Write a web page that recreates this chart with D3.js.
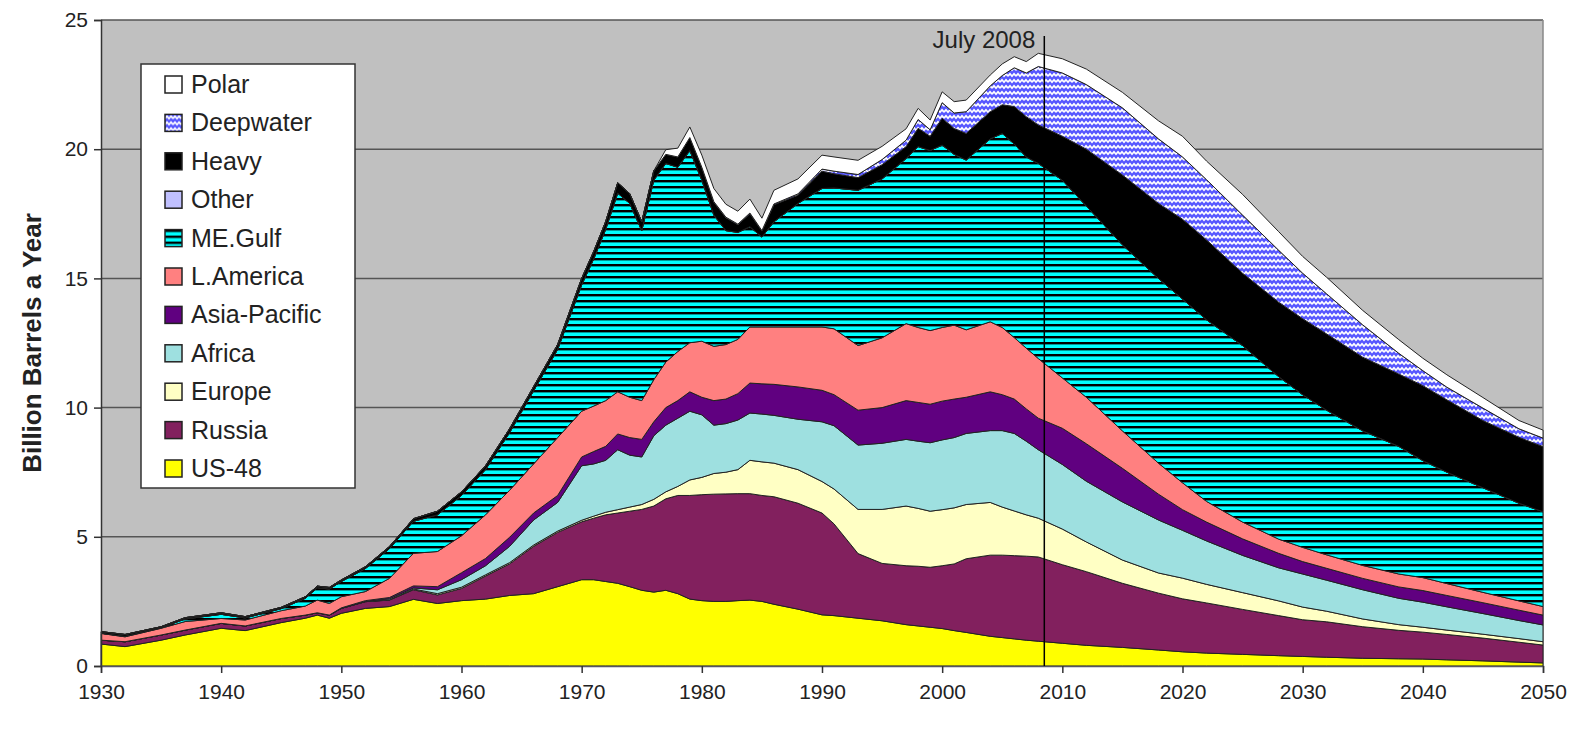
<!DOCTYPE html>
<html>
<head>
<meta charset="utf-8">
<script src="https://cdn.jsdelivr.net/npm/d3@7"></script>
<style>
  body { margin: 0; background: #fff; }
  svg text { font-family: Arial, "Liberation Sans", sans-serif; fill: #222; }
</style>
</head>
<body>
<div id="chart"></div>
<script>
// years (uneven steps, denser where the curve bends)
const years = [1930, 1932, 1935, 1937, 1940, 1942, 1945, 1947, 1948, 1949,
  1950, 1952, 1954, 1956, 1958, 1960, 1962, 1964, 1966, 1968,
  1970, 1971, 1972, 1973, 1974, 1975, 1976, 1977, 1978, 1979,
  1980, 1981, 1982, 1983, 1984, 1985, 1986, 1988, 1990, 1991,
  1993, 1995, 1997, 1998, 1999, 2000, 2001, 2002, 2004, 2005,
  2006, 2007, 2008, 2010, 2012, 2015, 2018, 2020, 2022, 2025,
  2028, 2030, 2032, 2035, 2038, 2040, 2042, 2045, 2048, 2050]

// billion barrels a year, per region
const us48 = [.85, .75, 1.00, 1.20, 1.46, 1.37, 1.68, 1.85, 1.97, 1.85,
  2.04, 2.23, 2.30, 2.58, 2.42, 2.53, 2.59, 2.73, 2.80, 3.07,
  3.34, 3.34, 3.27, 3.20, 3.07, 2.93, 2.86, 2.93, 2.80, 2.59,
  2.53, 2.50, 2.50, 2.53, 2.55, 2.50, 2.39, 2.20, 1.98, 1.95,
  1.85, 1.75, 1.60, 1.55, 1.50, 1.45, 1.37, 1.30, 1.15, 1.10,
  1.05, 1.00, 0.96, 0.88, 0.80, 0.72, 0.62, 0.55, 0.50, 0.45,
  0.40, 0.37, 0.34, 0.30, 0.28, 0.27, 0.24, 0.20, 0.15, 0.12]
const russia = [.15, .19, .20, .19, .19, .18, .16, .12, .09, .12,
  .19, .26, .25, .37, .33, .47, .89, 1.22, 1.83, 2.10,
  2.24, 2.38, 2.58, 2.72, 2.92, 3.13, 3.33, 3.54, 3.80, 4.01,
  4.10, 4.15, 4.16, 4.14, 4.12, 4.10, 4.16, 4.10, 3.94, 3.55,
  2.50, 2.22, 2.28, 2.31, 2.32, 2.43, 2.58, 2.85, 3.14, 3.19,
  3.22, 3.25, 3.26, 3.04, 2.85, 2.48, 2.20, 2.05, 1.94, 1.74,
  1.55, 1.42, 1.37, 1.22, 1.10, 1.04, 0.98, 0.88, 0.77, 0.69]
const europe = [0, 0, 0, 0, 0, 0, 0, 0, 0, 0,
  0, 0, .01, .03, .05, .05, .05, .05, .05, .05,
  .06, .08, .10, .13, .16, .19, .26, .27, .35, .60,
  .67, .80, .84, .93, 1.29, 1.30, 1.30, 1.30, 1.22, 1.35,
  1.71, 2.09, 2.31, 2.24, 2.17, 2.17, 2.17, 2.10, 2.04, 1.86,
  1.73, 1.60, 1.50, 1.38, 1.15, 0.90, 0.78, 0.80, 0.72, 0.65,
  0.57, 0.49, 0.41, 0.30, 0.22, 0.19, 0.17, 0.15, 0.14, 0.13]
const africa = [0, 0, 0, 0, 0, 0, 0, 0, 0, 0,
  0, .01, .04, .04, .15, .29, .35, .63, .97, 1.11,
  2.11, 2.02, 2.01, 2.32, 2.01, 1.84, 2.46, 2.58, 2.64, 2.66,
  2.42, 1.87, 1.88, 1.92, 1.83, 1.85, 1.85, 1.95, 2.31, 2.45,
  2.49, 2.56, 2.58, 2.60, 2.65, 2.70, 2.72, 2.75, 2.78, 2.96,
  3.00, 2.85, 2.65, 2.50, 2.35, 2.25, 2.05, 1.85, 1.68, 1.44,
  1.28, 1.28, 1.20, 1.13, 1.02, 0.97, 0.90, 0.80, 0.70, 0.65]
const asiaPacific = [0, 0, 0, 0, 0, 0, 0, 0, 0, 0,
  .02, .03, .05, .08, .12, .27, .28, .35, .27, .27,
  .34, .48, .54, .61, .68, .68, .54, .68, .68, .75,
  .68, .95, .95, 1.02, 1.16, 1.17, 1.20, 1.25, 1.22, 1.20,
  1.35, 1.38, 1.50, 1.50, 1.49, 1.50, 1.49, 1.40, 1.50, 1.39,
  1.33, 1.25, 1.22, 1.40, 1.45, 1.30, 1.00, 0.80, 0.73, 0.64,
  0.56, 0.48, 0.46, 0.44, 0.44, 0.45, 0.44, 0.42, 0.40, 0.38]
const latinAmerica = [.26, .19, .26, .33, .19, .23, .30, .35, .49, .45,
  .43, .35, .74, 1.26, 1.36, 1.43, 1.69, 1.82, 1.90, 2.24,
  1.77, 1.76, 1.77, 1.63, 1.56, 1.50, 1.63, 1.76, 1.90, 1.90,
  2.17, 2.10, 2.11, 2.10, 2.17, 2.20, 2.22, 2.32, 2.45, 2.55,
  2.50, 2.70, 2.98, 2.90, 2.85, 2.85, 2.86, 2.61, 2.71, 2.60,
  2.38, 2.35, 2.31, 1.95, 1.80, 1.45, 1.20, 1.04, 0.80, 0.65,
  0.55, 0.55, 0.52, 0.50, 0.50, 0.50, 0.46, 0.40, 0.36, 0.33]
const meGulf = [.01, .02, .02, .10, .16, .08, .08, .30, .48, .56,
  .59, .89, 1.15, 1.24, 1.42, 1.56, 1.75, 2.23, 2.83, 3.41,
  4.89, 5.69, 6.63, 7.69, 7.50, 6.58, 7.72, 7.69, 7.13, 7.44,
  6.23, 5.08, 4.41, 4.14, 3.88, 3.48, 4.07, 4.78, 5.36, 5.45,
  6.01, 6.15, 6.39, 7.00, 6.97, 7.06, 6.61, 6.57, 7.08, 7.51,
  7.49, 7.40, 7.55, 7.65, 7.40, 7.20, 7.15, 7.11, 7.03, 6.83,
  6.29, 5.91, 5.60, 5.21, 4.94, 4.53, 4.31, 4.05, 3.78, 3.67]
const other = years.map(() => 0)   // no visible "Other" band in the picture
const heavy = [.06, .07, .04, .05, .06, .05, .05, .06, .06, .06,
  .06, .07, .08, .10, .14, .14, .15, .15, .16, .19,
  .25, .29, .30, .40, .38, .34, .36, .35, .40, .50,
  .50, .50, .50, .30, .50, .23, .66, .32, .67, .55,
  .49, .55, .46, .71, .55, 1.04, 1.00, 1.03, 1.05, 1.11,
  1.45, 1.56, 1.49, 1.70, 2.20, 2.70, 2.90, 3.09, 3.09, 2.80,
  2.88, 2.94, 2.95, 2.85, 2.80, 2.90, 2.80, 2.60, 2.55, 2.52]
const deepwater = [0, 0, 0, 0, 0, 0, 0, 0, 0, 0,
  0, 0, 0, 0, 0, 0, 0, 0, 0, 0,
  0, 0, 0, 0, 0, 0, 0, 0, 0, 0,
  0, .02, .02, .02, .03, .02, .03, .05, .08, .10,
  .12, .20, .25, .34, .25, .60, .60, .84, 1.00, 1.13,
  1.50, 1.69, 2.26, 2.45, 2.50, 2.60, 2.50, 2.41, 2.33, 2.25,
  2.01, 1.76, 1.55, 1.25, 0.80, 0.58, 0.49, 0.48, 0.33, 0.33]
const polar = [0, 0, 0, 0, 0, 0, 0, 0, 0, 0,
  0, 0, 0, 0, 0, 0, 0, 0, 0, 0,
  0, 0, 0, 0, 0, 0, 0, .18, .34, .41,
  .47, .51, .50, .50, .54, .48, .53, .58, .54, .55,
  .55, .51, .44, .43, .38, .42, .44, .45, .42, .45,
  .43, .44, .51, .55, .60, .60, .70, .80, .72, .80,
  .72, .65, .64, .56, .53, .48, .48, .41, .32, .31]

const yTicks = [0, 5, 10, 15, 20, 25]
const xTicks = [1930, 1940, 1950, 1960, 1970, 1980, 1990, 2000, 2010, 2020, 2030, 2040, 2050]

// bottom to top
const keys = ['US-48', 'Russia', 'Europe', 'Africa', 'Asia-Pacific', 'L.America',
  'ME.Gulf', 'Other', 'Heavy', 'Deepwater', 'Polar']
const columns = [us48, russia, europe, africa, asiaPacific, latinAmerica,
  meGulf, other, heavy, deepwater, polar]

const rows = years.map((yr, i) => {
  const row = { year: yr }
  keys.forEach((k, j) => { row[k] = columns[j][i] })
  return row
})

const width = 1576
const height = 735
const margin = { top: 20, right: 33, bottom: 69, left: 101 }

const svg = d3.select('#chart').append('svg')
    .attr('width', width)
    .attr('height', height)

const defs = svg.append('defs')

// ME.Gulf: cyan with black horizontal bars
const stripes = defs.append('pattern')
    .attr('id', 'stripes')
    .attr('patternUnits', 'userSpaceOnUse')
    .attr('width', 8).attr('height', 6)
stripes.append('rect').attr('width', 8).attr('height', 6).attr('fill', '#00ffff')
stripes.append('rect').attr('width', 8).attr('height', 2.4).attr('fill', '#000')

// Deepwater: blue with white zigzags
const waves = defs.append('pattern')
    .attr('id', 'waves')
    .attr('patternUnits', 'userSpaceOnUse')
    .attr('width', 8).attr('height', 6)
waves.append('rect').attr('width', 8).attr('height', 6).attr('fill', '#5656ff')
waves.append('path')
    .attr('d', 'M0,4.2 L2,1.8 L4,4.2 L6,1.8 L8,4.2')
    .attr('fill', 'none').attr('stroke', '#fff').attr('stroke-width', 1.7)

const fills = {
  'US-48': '#ffff00',
  'Russia': '#82205e',
  'Europe': '#ffffc4',
  'Africa': '#9ee0e0',
  'Asia-Pacific': '#600080',
  'L.America': '#ff8080',
  'ME.Gulf': 'url(#stripes)',
  'Other': '#c0c0ff',
  'Heavy': '#000000',
  'Deepwater': 'url(#waves)',
  'Polar': '#ffffff'
}

const x = d3.scaleLinear()
    .domain([1930, 2050])
    .range([margin.left, width - margin.right])
const y = d3.scaleLinear()
    .domain([0, 25])
    .range([height - margin.bottom, margin.top])

// plot area
svg.append('rect')
    .attr('x', x(1930)).attr('y', y(25))
    .attr('width', x(2050) - x(1930)).attr('height', y(0) - y(25))
    .attr('fill', '#c0c0c0')

svg.append('g')
  .selectAll('line')
  .data(yTicks.slice(1))
  .join('line')
    .attr('x1', x(1930)).attr('x2', x(2050))
    .attr('y1', d => y(d)).attr('y2', d => y(d))
    .attr('stroke', '#555').attr('stroke-width', 1.5)

svg.append('line')
    .attr('x1', x(2050)).attr('x2', x(2050))
    .attr('y1', y(25)).attr('y2', y(0))
    .attr('stroke', '#888').attr('stroke-width', 1.5)

const series = d3.stack().keys(keys)(rows)

const area = d3.area()
    .x(d => x(d.data.year))
    .y0(d => y(d[0]))
    .y1(d => y(d[1]))

svg.append('g')
  .selectAll('path')
  .data(series)
  .join('path')
    .attr('d', area)
    .attr('fill', d => fills[d.key])
    .attr('stroke', '#222')
    .attr('stroke-width', 1)
    .attr('stroke-linejoin', 'round')

// axes
const yAxis = svg.append('g')
    .attr('transform', `translate(${margin.left},0)`)
    .call(d3.axisLeft(y).tickValues(yTicks).tickSize(7).tickPadding(6))
yAxis.select('.domain').attr('stroke', '#333').attr('stroke-width', 1.5)
yAxis.selectAll('.tick line').attr('stroke', '#333').attr('stroke-width', 1.5)
yAxis.selectAll('text').attr('font-size', 21).style('fill', '#222')

const xAxis = svg.append('g')
    .attr('transform', `translate(0,${height - margin.bottom})`)
    .call(d3.axisBottom(x).tickValues(xTicks).tickFormat(d3.format('d')).tickSize(7).tickPadding(11))
xAxis.select('.domain').attr('stroke', '#556').attr('stroke-width', 1.5)
xAxis.selectAll('.tick line').attr('stroke', '#333').attr('stroke-width', 1.5)
xAxis.selectAll('text').attr('font-size', 21).style('fill', '#222')

svg.append('text')
    .attr('transform', `translate(41,${(y(0) + y(25)) / 2}) rotate(-90)`)
    .attr('text-anchor', 'middle')
    .attr('font-size', 26)
    .attr('font-weight', 'bold')
    .text('Billion Barrels a Year')

// July 2008 marker
svg.append('line')
    .attr('x1', x(2008.5)).attr('x2', x(2008.5))
    .attr('y1', 36).attr('y2', y(0))
    .attr('stroke', '#000').attr('stroke-width', 1.5)
svg.append('text')
    .attr('x', x(2008.5) - 9).attr('y', 48)
    .attr('text-anchor', 'end')
    .attr('font-size', 24)
    .text('July 2008')

// legend
const legend = svg.append('g').attr('transform', 'translate(141,64)')
legend.append('rect')
    .attr('width', 214).attr('height', 424)
    .attr('fill', '#fff').attr('stroke', '#333').attr('stroke-width', 1.5)

const item = legend.selectAll('g.item')
  .data(keys.slice().reverse())
  .join('g')
    .attr('class', 'item')
    .attr('transform', (d, i) => `translate(24,${12 + i * 38.4})`)
item.append('rect')
    .attr('width', 17).attr('height', 17)
    .attr('fill', d => fills[d])
    .attr('stroke', '#222').attr('stroke-width', 1.5)
item.append('text')
    .attr('x', 26).attr('y', 17)
    .attr('font-size', 25)
    .text(d => d)
</script>
</body>
</html>
